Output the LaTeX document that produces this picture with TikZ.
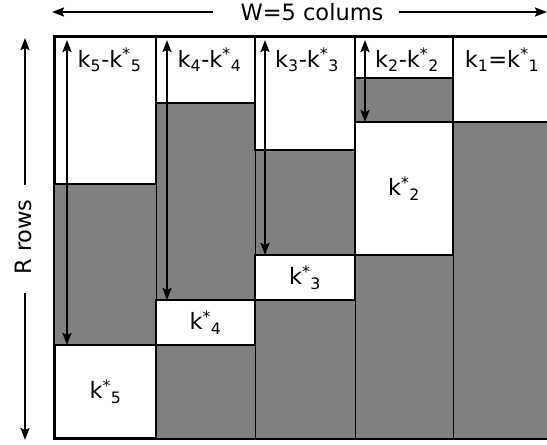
\documentclass[tikz,border=0pt]{standalone}
\usepackage{fontspec}
\setmainfont{DejaVu Sans}
\usetikzlibrary{arrows.meta}

\begin{document}
\begin{tikzpicture}[
  x = 1pt,
  y = -1pt,
  font = \fontsize{22.5}{27}\selectfont,
  > = {Stealth[length = 12pt, width = 9pt, inset = 2pt]},
  blank/.style = {
    shape = rectangle,
    draw,
    fill = white,
    line width = 2.7pt,
    inner sep = 0pt,
    outer sep = 0pt,
  },
  tag/.style = {
    inner sep = 0pt,
    anchor = base,
  },
  every path/.style = {
    line width = 2pt
  }
]
  \useasboundingbox (0, 0) rectangle (547, 445);

  % the table
  \node[fill = gray, inner sep = 0pt, minimum width = 498pt, minimum height = 401pt] (grid) at (304, 237.5) {};
  \foreach \x in {156, 255, 355, 453}
    \draw[line width = 0.8pt] (\x, 37) -- (\x, 438);

  \node[blank, minimum width = 101pt, minimum height = 147pt] (d5) at (105.5, 110.5) {};
  \node[blank, minimum width = 99pt, minimum height = 66pt] (d4) at (205.5, 70) {};
  \node[blank, minimum width = 100pt, minimum height = 113pt] (d3) at (305, 93.5) {};
  \node[blank, minimum width = 98pt, minimum height = 41pt] (d2) at (404, 57.5) {};
  \node[blank, minimum width = 100pt, minimum height = 85pt] (d1) at (503, 79.5) {};

  \node[blank, minimum width = 101pt, minimum height = 93pt] (s5) at (105.5, 391.5) {k\textsuperscript{*}\textsubscript{5}};
  \node[blank, minimum width = 99pt, minimum height = 45pt] (s4) at (205.5, 322.5) {k\textsuperscript{*}\textsubscript{4}};
  \node[blank, minimum width = 100pt, minimum height = 45pt] (s3) at (305, 277.5) {k\textsuperscript{*}\textsubscript{3}};
  \node[blank, minimum width = 98pt, minimum height = 133pt] (s2) at (404, 188.5) {k\textsuperscript{*}\textsubscript{2}};

  \draw[line width = 2.7pt] (grid.north west) rectangle (grid.south east);

  \node[tag] (l5) at ([xshift = 4pt, yshift = -30pt] d5.north) {k\textsubscript{5}-k\textsuperscript{*}\textsubscript{5}};
  \node[tag] (l4) at ([xshift = 4pt, yshift = -30pt] d4.north) {k\textsubscript{4}-k\textsuperscript{*}\textsubscript{4}};
  \node[tag] (l3) at ([xshift = 2pt, yshift = -30pt] d3.north) {k\textsubscript{3}-k\textsuperscript{*}\textsubscript{3}};
  \node[tag] (l2) at ([xshift = 3pt, yshift = -30pt] d2.north) {k\textsubscript{2}-k\textsuperscript{*}\textsubscript{2}};
  \node[tag] (l1) at ([xshift = -1pt, yshift = -30pt] d1.north) {k\textsubscript{1}=k\textsuperscript{*}\textsubscript{1}};

  \draw[<->] ([xshift = 12pt, yshift = -3pt] d5.north west) -- ([xshift = 12pt] s5.north west);
  \draw[<->] ([xshift = 11pt, yshift = -3pt] d4.north west) -- ([xshift = 11pt] s4.north west);
  \draw[<->] ([xshift = 10pt, yshift = -3pt] d3.north west) -- ([xshift = 10pt] s3.north west);
  \draw[<->] ([xshift = 10pt, yshift = -3pt] d2.north west) -- ([xshift = 10pt] s2.north west);

  % the axes
  \node[inner sep = 0pt] (wtag) at (312, 12) {W=5 colums};
  \coordinate (wl) at (52, 12);
  \coordinate (wr) at (547, 12);
  \draw[->] ([xshift = -27pt] wtag.west) -- (wl);
  \draw[->] ([xshift = 15pt] wtag.east) -- (wr);

  \node[inner sep = 0pt, rotate = 90] (rtag) at (23, 237) {R rows};
  \coordinate (rt) at (25, 38);
  \coordinate (rb) at (25, 440);
  \draw[->] (25, 185) -- (rt);
  \draw[->] (25, 293) -- (rb);
\end{tikzpicture}
\end{document}
